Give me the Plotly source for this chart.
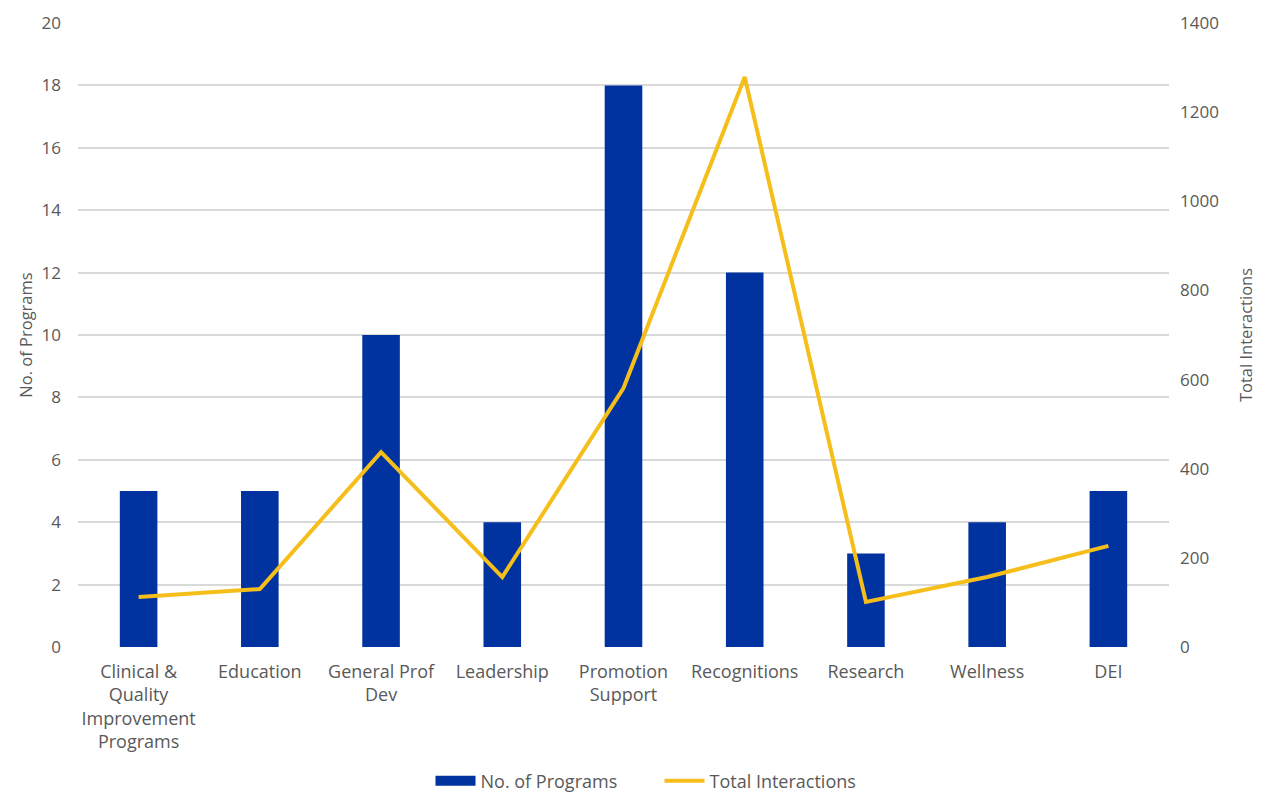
import plotly.graph_objects as go

categories = ["Clinical &<br>Quality<br>Improvement<br>Programs", "Education", "General Prof<br>Dev",
              "Leadership", "Promotion<br>Support", "Recognitions", "Research", "Wellness", "DEI"]
programs = [5, 5, 10, 4, 18, 12, 3, 4, 5]
interactions = [112, 130, 437, 157, 581, 1279, 101, 157, 227]

BAR_COLOR = "#0033A0"
LINE_COLOR = "#F6BE1A"
font = dict(family="Open Sans, Noto Sans, sans-serif", size=17, color="#595959")
xfont = dict(font, size=18)
tfont = dict(font, size=16.5)

fig = go.Figure()
fig.add_trace(go.Bar(x=categories, y=programs, name="No. of Programs", showlegend=False,
                     marker=dict(color=BAR_COLOR, line=dict(width=0)), width=0.31, yaxis="y"))
# legend proxy for the bar series (wide rectangle key)
fig.add_trace(go.Scatter(x=[None], y=[None], name="No. of Programs", mode="lines",
                         line=dict(color=BAR_COLOR, width=10), yaxis="y", hoverinfo="skip"))
fig.add_trace(go.Scatter(x=categories, y=interactions, name="Total Interactions", mode="lines",
                         line=dict(color=LINE_COLOR, width=4), yaxis="y2"))

fig.update_layout(
    width=1268, height=792,
    margin=dict(l=78, r=99, t=23, b=145, autoexpand=False),
    plot_bgcolor="white", paper_bgcolor="white",
    font=font,
    showlegend=True,
    legend=dict(orientation="h", x=0.533, xanchor="center", y=-0.215, yanchor="middle",
                font=xfont, traceorder="normal", itemwidth=40, entrywidth=174),
    xaxis=dict(showgrid=False, showline=False, ticks="", tickfont=xfont, tickangle=0,
               automargin=False, ticklabelstandoff=12),
    yaxis=dict(range=[0, 20], dtick=2, showgrid=True, gridcolor="#D9D9D9", gridwidth=1.5,
               zeroline=False, showline=False, ticks="", automargin=False, ticklabelstandoff=16,
               title=dict(text="No. of Programs", font=tfont, standoff=4), tickfont=font),
    yaxis2=dict(range=[0, 1400], dtick=200, overlaying="y", side="right", showgrid=False,
                zeroline=False, showline=False, ticks="", automargin=False, ticklabelstandoff=10,
                title=dict(text="Total Interactions", font=tfont, standoff=22), tickfont=font),
    bargap=0.69,
)
fig.write_html("out.html")
